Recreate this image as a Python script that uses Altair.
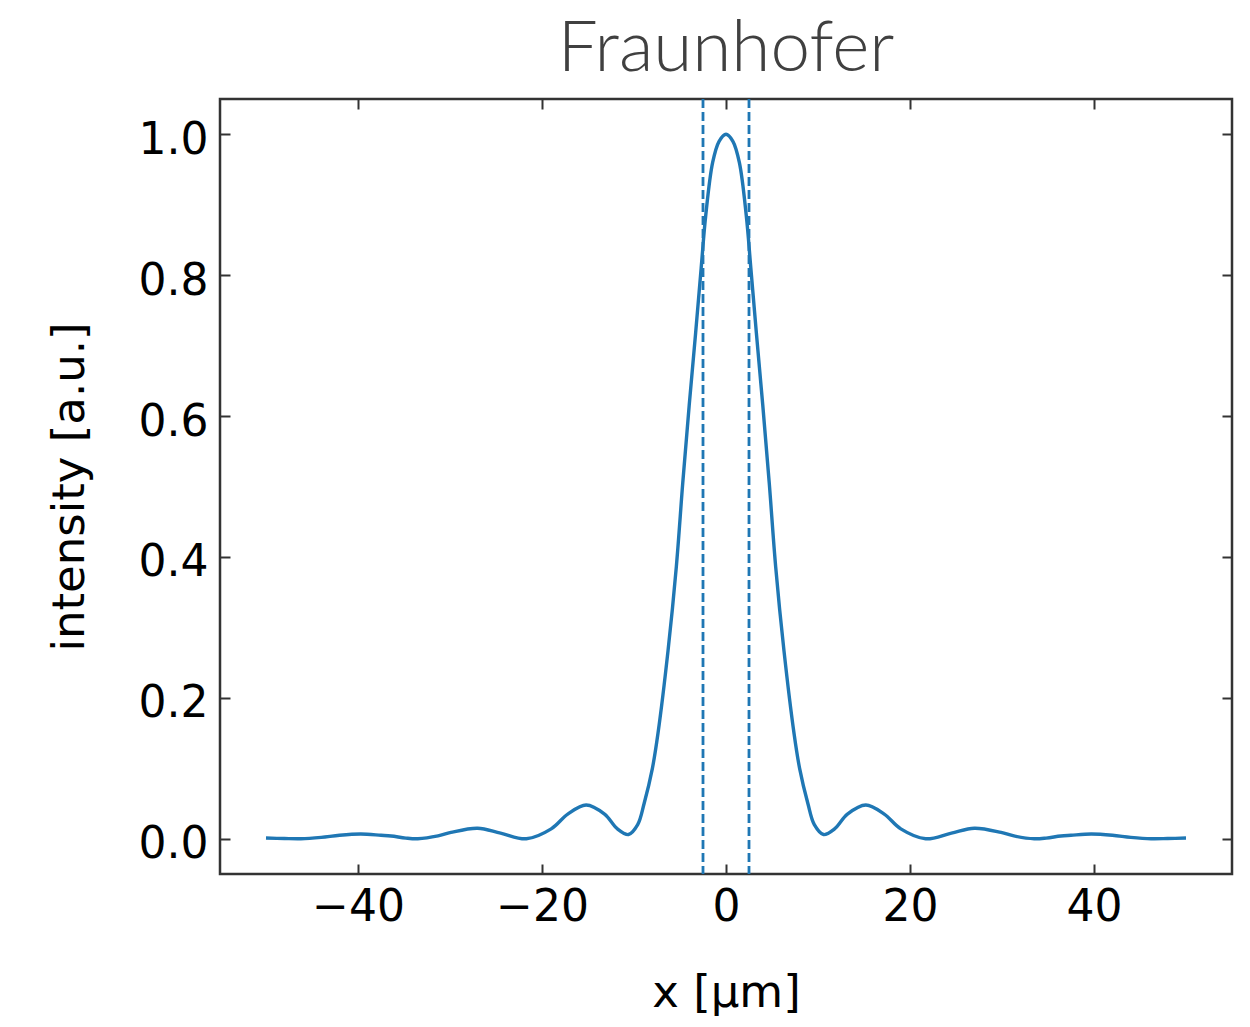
import altair as alt
import pandas as pd

x_left = [-50.0, -48.0, -46.2, -44.0, -42.0, -39.7, -37.5, -36.4, -34.8, -33.5,
          -31.3, -29.9, -27.0, -24.5, -21.7, -19.0, -17.2, -15.2, -13.2, -11.8,
          -10.6, -9.6, -8.9, -8.0, -7.4, -6.3, -5.4, -4.7, -4.0, -3.3,
          -2.7, -2.2, -1.45, -0.75]
y_left = [0.001, 0.0003, 0.0, 0.002, 0.005, 0.0067, 0.005, 0.004, 0.001, 0.0,
          0.004, 0.009, 0.015, 0.008, 0.0, 0.014, 0.035, 0.048, 0.035, 0.014,
          0.006, 0.02, 0.05, 0.1, 0.149, 0.267, 0.386, 0.505, 0.615, 0.718,
          0.81, 0.885, 0.96, 0.99]
x_peak = [0.0]
y_peak = [1.0]

x_vals = x_left + x_peak + [-v for v in reversed(x_left)]
y_vals = y_left + y_peak + list(reversed(y_left))

slit_edges = [-2.5, 2.5]
x_ticks = [-40, -20, 0, 20, 40]
y_ticks = [0.0, 0.2, 0.4, 0.6, 0.8, 1.0]

W, H = 1012, 775
df = pd.DataFrame({"x": x_vals, "y": y_vals})
df_rules = pd.DataFrame({"xv": slit_edges})

xscale = alt.Scale(domain=[-55, 55], nice=False, zero=False)
yscale = alt.Scale(domain=[-0.05, 1.05], nice=False, zero=False)

base = alt.Chart(df)

line = base.mark_line(color="#1f77b4", interpolate="catmull-rom").encode(
    x=alt.X("x:Q", scale=xscale,
            axis=alt.Axis(orient="bottom", values=x_ticks, format="d", ticks=False,
                          tickSize=0, labelPadding=11, domain=False, grid=False,
                          title="x [µm]", titleY=96, titleBaseline="top")),
    y=alt.Y("y:Q", scale=yscale,
            axis=alt.Axis(orient="left", values=y_ticks, format=".1f", ticks=False,
                          tickSize=0, labelPadding=12, labelOffset=6, domain=False,
                          grid=False, title="intensity [a.u.]", titleX=-128)),
    strokeWidth=alt.value(3.4),
)

ticks_a = base.mark_line(opacity=0).encode(
    x=alt.X("x:Q", scale=xscale,
            axis=alt.Axis(orient="bottom", offset=-H, values=x_ticks, labels=False,
                          ticks=True, tickSize=10, domain=False, grid=False, title=None)),
    y=alt.Y("y:Q", scale=yscale,
            axis=alt.Axis(orient="right", offset=-W, values=y_ticks, labels=False,
                          ticks=True, tickSize=10, domain=False, grid=False, title=None)),
)

ticks_b = base.mark_line(opacity=0).encode(
    x=alt.X("x:Q", scale=xscale,
            axis=alt.Axis(orient="top", offset=-H, values=x_ticks, labels=False,
                          ticks=True, tickSize=10, domain=False, grid=False, title=None)),
    y=alt.Y("y:Q", scale=yscale,
            axis=alt.Axis(orient="left", offset=-W, values=y_ticks, labels=False,
                          ticks=True, tickSize=10, domain=False, grid=False, title=None)),
)

rules = alt.Chart(df_rules).mark_rule(color="#1f77b4", strokeDash=[9, 4]).encode(
    x=alt.X("xv:Q", scale=xscale, axis=None),
    strokeWidth=alt.value(2.8),
)

chart = (
    alt.layer(line, ticks_a, ticks_b, rules)
    .resolve_axis(x="independent", y="independent")
    .properties(
        width=W,
        height=H,
        padding={"left": 220, "top": 99, "right": 18, "bottom": 153},
        autosize=alt.AutoSizeParams(type="none"),
        title=alt.Title("Fraunhofer", font="Lato", fontSize=71, fontWeight=300,
                        color="#404040", anchor="middle", offset=-44,
                        baseline="alphabetic"),
    )
    .configure(background="white")
    .configure_view(stroke="#333333", strokeWidth=2.5)
    .configure_axis(
        labelFont="DejaVu Sans", labelFontSize=44, labelColor="black",
        titleFont="DejaVu Sans", titleFontSize=45, titleFontWeight="normal",
        titleColor="black", tickColor="#333333", tickWidth=2,
    )
)

chart.save("out.html", embed_options={"renderer": "svg", "actions": False})
